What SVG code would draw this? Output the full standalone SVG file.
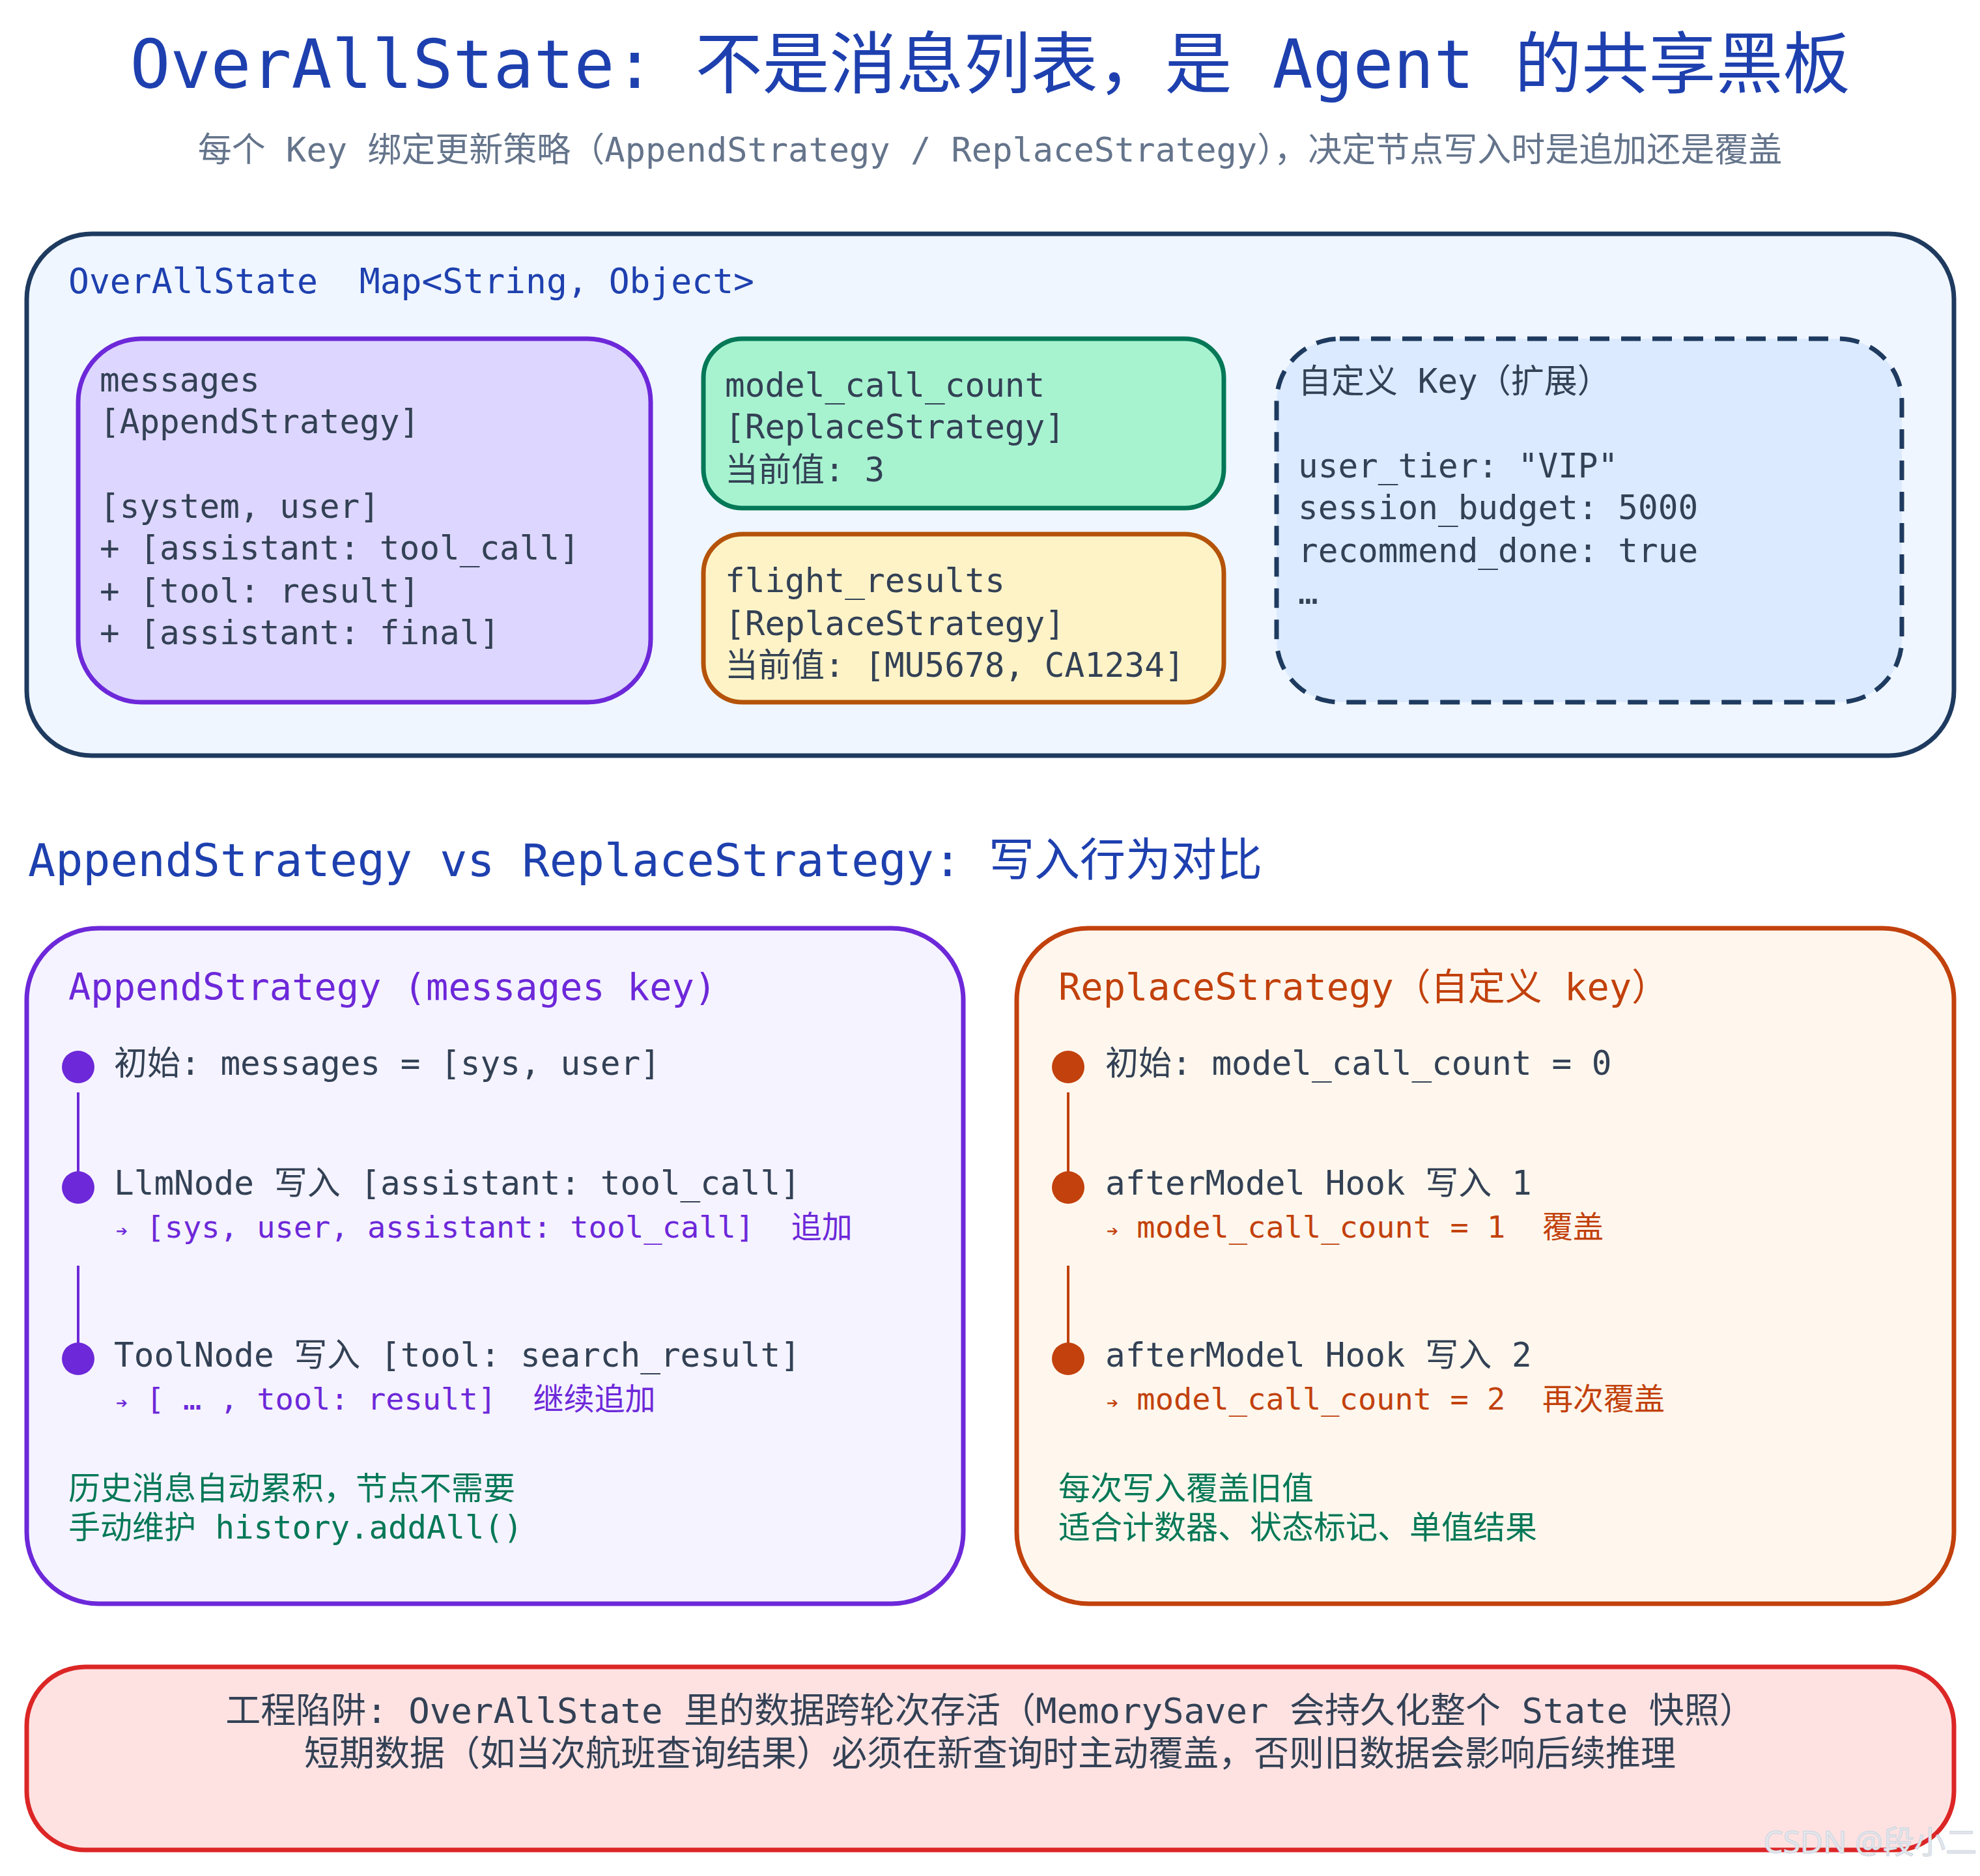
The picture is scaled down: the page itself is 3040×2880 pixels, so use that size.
<svg xmlns="http://www.w3.org/2000/svg" width="3040" height="2880" viewBox="0 0 3040 2880">
<style>
text{font-family:"DejaVu Sans Mono","Noto Sans CJK SC",monospace;}
.t{font-size:51px;fill:#334155}
.s{font-size:47px}
.pu{fill:#6d28d9}
.or{fill:#c2410c}
.gr{font-size:49px;fill:#047857}
.box{stroke-width:7}
.ln{stroke-width:4}
</style>
<rect width="3040" height="2880" fill="#ffffff"/>
<text x="1520" y="135" text-anchor="middle" font-size="103" fill="#1e40af">OverAllState: 不是消息列表，是 Agent 的共享黑板</text>
<text x="1520" y="248" text-anchor="middle" font-size="52" fill="#64748b">每个 Key 绑定更新策略（AppendStrategy / ReplaceStrategy），决定节点写入时是追加还是覆盖</text>

<g id="overallstate">
<rect x="41" y="359" width="2959" height="801" rx="100" fill="#eff6ff" stroke="#1e3a5f" class="box"/>
<text x="105" y="450" font-size="53" fill="#1e40af" xml:space="preserve">OverAllState  Map&lt;String, Object&gt;</text>
</g>
<g id="messages">
<rect x="120" y="520" width="879" height="558" rx="97" fill="#ddd6fe" stroke="#6d28d9" class="box"/>
<text class="t" x="153" y="601">messages</text>
<text class="t" x="153" y="665">[AppendStrategy]</text>
<text class="t" x="153" y="795">[system, user]</text>
<text class="t" x="153" y="859">+ [assistant: tool_call]</text>
<text class="t" x="153" y="925">+ [tool: result]</text>
<text class="t" x="153" y="989">+ [assistant: final]</text>
</g>
<g id="model_call_count">
<rect x="1080" y="520" width="799" height="260" rx="60" fill="#a7f3d0" stroke="#047857" class="box"/>
<text class="t" x="1113" y="609">model_call_count</text>
<text class="t" x="1113" y="673">[ReplaceStrategy]</text>
<text class="t" x="1113" y="739">当前值: 3</text>
</g>
<g id="flight_results">
<rect x="1080" y="820" width="799" height="258" rx="60" fill="#fef3c7" stroke="#b45309" class="box"/>
<text class="t" x="1113" y="909">flight_results</text>
<text class="t" x="1113" y="975">[ReplaceStrategy]</text>
<text class="t" x="1113" y="1039">当前值: [MU5678, CA1234]</text>
</g>
<g id="custom_key">
<rect x="1960" y="520" width="960" height="558" rx="97" fill="#dbeafe" stroke="#1e3a5f" class="box" stroke-dasharray="30,18"/>
<text class="t" x="1993" y="603">自定义 Key（扩展）</text>
<text class="t" x="1993" y="733">user_tier: "VIP"</text>
<text class="t" x="1993" y="797">session_budget: 5000</text>
<text class="t" x="1993" y="863">recommend_done: true</text>
<text class="t" x="1993" y="927">…</text>
</g>

<text x="43" y="1345" font-size="70" fill="#1e40af">AppendStrategy vs ReplaceStrategy: 写入行为对比</text>

<g id="append">
<rect x="41" y="1425" width="1438" height="1037" rx="110" fill="#f5f3ff" stroke="#6d28d9" class="box"/>
<text x="105" y="1535" font-size="57" class="pu">AppendStrategy (messages key)</text>
</g>
<g id="replace">
<rect x="1561" y="1425" width="1439" height="1037" rx="110" fill="#fff7ed" stroke="#c2410c" class="box"/>
<text x="1625" y="1535" font-size="57" class="or">ReplaceStrategy（自定义 key）</text>
</g>
<g id="connectors">
<line x1="120" y1="1677" x2="120" y2="1800" stroke="#6d28d9" class="ln"/>
<line x1="120" y1="1943" x2="120" y2="2063" stroke="#6d28d9" class="ln"/>
<line x1="1640" y1="1677" x2="1640" y2="1800" stroke="#c2410c" class="ln"/>
<line x1="1640" y1="1943" x2="1640" y2="2063" stroke="#c2410c" class="ln"/>
</g>
<g id="append_steps">
<circle cx="120" cy="1638" r="25" fill="#6d28d9"/>
<circle cx="120" cy="1823" r="25" fill="#6d28d9"/>
<circle cx="120" cy="2086" r="25" fill="#6d28d9"/>
<text class="t" x="175" y="1650">初始: messages = [sys, user]</text>
<text class="t" x="175" y="1834">LlmNode 写入 [assistant: tool_call]</text>
<text class="s pu" x="178" y="1900" xml:space="preserve"><tspan font-size="30">➔</tspan> [sys, user, assistant: tool_call]  追加</text>
<text class="t" x="175" y="2098">ToolNode 写入 [tool: search_result]</text>
<text class="s pu" x="178" y="2164" xml:space="preserve"><tspan font-size="30">➔</tspan> [ … , tool: result]  继续追加</text>
<text class="gr" x="105" y="2302">历史消息自动累积，节点不需要</text>
<text class="gr" x="105" y="2362">手动维护 history.addAll()</text>
</g>
<g id="replace_steps">
<circle cx="1640" cy="1638" r="25" fill="#c2410c"/>
<circle cx="1640" cy="1823" r="25" fill="#c2410c"/>
<circle cx="1640" cy="2086" r="25" fill="#c2410c"/>
<text class="t" x="1697" y="1650">初始: model_call_count = 0</text>
<text class="t" x="1697" y="1834">afterModel Hook 写入 1</text>
<text class="s or" x="1699" y="1900" xml:space="preserve"><tspan font-size="30">➔</tspan> model_call_count = 1  覆盖</text>
<text class="t" x="1697" y="2098">afterModel Hook 写入 2</text>
<text class="s or" x="1699" y="2164" xml:space="preserve"><tspan font-size="30">➔</tspan> model_call_count = 2  再次覆盖</text>
<text class="gr" x="1625" y="2302">每次写入覆盖旧值</text>
<text class="gr" x="1625" y="2362">适合计数器、状态标记、单值结果</text>
</g>

<g id="pitfall">
<rect x="41" y="2559" width="2959" height="281" rx="90" fill="#fee2e2" stroke="#dc2626" class="box"/>
<text x="1520" y="2645" text-anchor="middle" font-size="54" fill="#334155">工程陷阱: OverAllState 里的数据跨轮次存活（MemorySaver 会持久化整个 State 快照）</text>
<text x="1520" y="2711" text-anchor="middle" font-size="54" fill="#334155">短期数据（如当次航班查询结果）必须在新查询时主动覆盖，否则旧数据会影响后续推理</text>
</g>
<text x="3035" y="2845" text-anchor="end" font-size="48" fill="#e5e7eb" stroke="#cbd5e1" stroke-width="1" style="font-family:'Noto Sans','Noto Sans CJK SC',sans-serif">CSDN @段小二</text>
</svg>
